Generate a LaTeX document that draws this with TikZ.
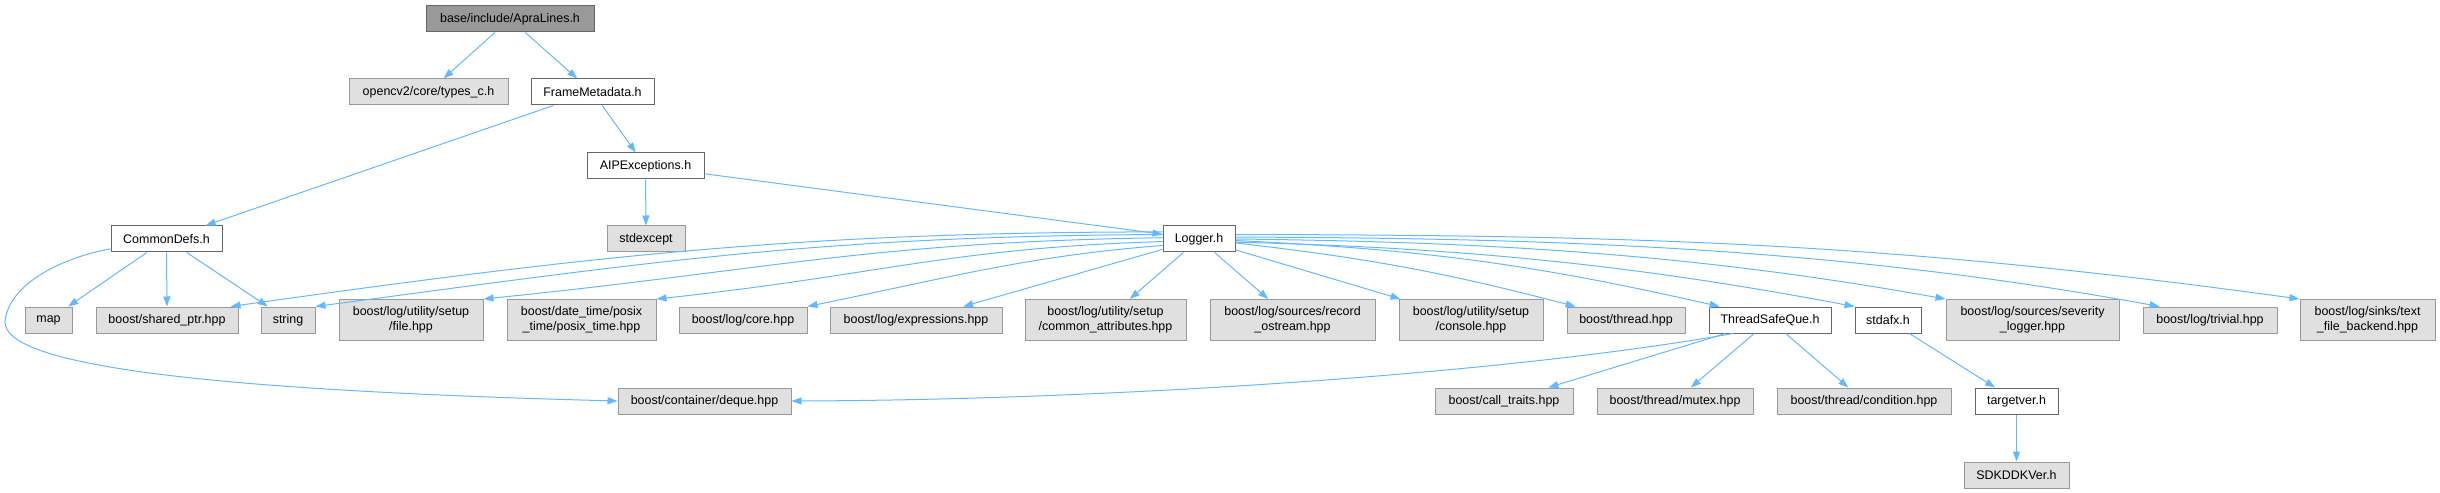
\documentclass[tikz,border=0pt]{standalone}
\usepackage{fontspec}
\setmainfont{Liberation Sans}
\usepackage{xcolor}
\usetikzlibrary{arrows.meta}

\definecolor{edgeblue}{HTML}{63B8FF}
\definecolor{extfill}{HTML}{E0E0E0}
\definecolor{extline}{HTML}{999999}
\definecolor{hdrline}{HTML}{666666}
\definecolor{rootfill}{HTML}{999999}

\begin{document}
\begin{tikzpicture}[x=1bp, y=-1bp,
  hdr/.style={draw=hdrline, fill=white, line width=1bp, inner sep=0pt,
    minimum height=26bp, align=center, font=\fontsize{12.5}{15.2}\selectfont},
  ext/.style={hdr, draw=extline, fill=extfill},
  root/.style={hdr, fill=rootfill},
  tall/.style={minimum height=41bp},
  dep/.style={draw=edgeblue, line width=1bp, -{Triangle[length=10bp,width=7bp]}}]

\useasboundingbox (0,0) rectangle (2440,493);

% top of the graph
\node[root, minimum width=168bp] (apra) at (510,19) {base/include/ApraLines.h};
\node[ext, minimum width=159bp] (opencv) at (428.5,92) {opencv2/core/types\_c.h};
\node[hdr, minimum width=123bp] (frame) at (592.5,92) {FrameMetadata.h};
\node[hdr, minimum width=117bp] (aip) at (645.5,166) {AIPExceptions.h};
\node[ext, minimum width=78bp] (stdexcept) at (646,239) {stdexcept};
\node[hdr, minimum width=111bp] (common) at (166.5,239) {CommonDefs.h};
\node[hdr, minimum width=72bp] (logger) at (1199,239) {Logger.h};

% headers row
\node[ext, minimum width=47bp] (map) at (48.5,320) {map};
\node[ext, minimum width=142bp] (sharedptr) at (167,320) {boost/shared\_ptr.hpp};
\node[ext, minimum width=54bp] (string) at (288,320) {string};
\node[ext, tall, minimum width=144bp] (setupfile) at (411,320) {boost/log/utility/setup\\/file.hpp};
\node[ext, tall, minimum width=149bp] (posix) at (581.5,320) {boost/date\_time/posix\\\_time/posix\_time.hpp};
\node[ext, minimum width=128bp] (core) at (743,320) {boost/log/core.hpp};
\node[ext, minimum width=172bp] (expressions) at (916,320) {boost/log/expressions.hpp};
\node[ext, tall, minimum width=161bp] (commonattr) at (1105.5,320) {boost/log/utility/setup\\/common\_attributes.hpp};
\node[ext, tall, minimum width=165bp] (recordostream) at (1292.5,320) {boost/log/sources/record\\\_ostream.hpp};
\node[ext, tall, minimum width=144bp] (console) at (1471,320) {boost/log/utility/setup\\/console.hpp};
\node[ext, minimum width=118bp] (threadhpp) at (1626,320) {boost/thread.hpp};
\node[hdr, minimum width=122bp] (tsq) at (1770,320) {ThreadSafeQue.h};
\node[hdr, minimum width=66bp] (stdafx) at (1888,320) {stdafx.h};
\node[ext, tall, minimum width=173bp] (severity) at (2032.5,320) {boost/log/sources/severity\\\_logger.hpp};
\node[ext, minimum width=134bp] (trivial) at (2210,320) {boost/log/trivial.hpp};
\node[ext, tall, minimum width=135bp] (textfile) at (2367.5,320) {boost/log/sinks/text\\\_file\_backend.hpp};

% bottom rows
\node[ext, minimum width=173bp] (deque) at (704.5,401) {boost/container/deque.hpp};
\node[ext, minimum width=138bp] (calltraits) at (1504,401) {boost/call\_traits.hpp};
\node[ext, minimum width=156bp] (mutex) at (1675,401) {boost/thread/mutex.hpp};
\node[ext, minimum width=174bp] (condition) at (1864,401) {boost/thread/condition.hpp};
\node[hdr, minimum width=83bp] (targetver) at (2016.5,401) {targetver.h};
\node[ext, minimum width=105bp] (sdk) at (2016.5,475) {SDKDDKVer.h};

\coordinate (farleft) at (5,322);

% includes
\draw[dep] (apra) -- (opencv);
\draw[dep] (apra) -- (frame);
\draw[dep] (frame) -- (common);
\draw[dep] (frame) -- (aip);
\draw[dep] (aip) -- (stdexcept);
\draw[dep] (aip) -- (logger);
\draw[dep] (common) -- (map);
\draw[dep] (common) -- (sharedptr);
\draw[dep] (common) -- (string);
\draw[dep] (common.190) .. controls (60,258) and (8,285) .. (farleft)
  .. controls (5,365) and (200,390) .. (deque.west);

\draw[dep] (logger.169) .. controls (800,232) and (590,256) .. (sharedptr.12);
\draw[dep] (logger.173) .. controls (820,236) and (650,262) .. (string.north east);
\draw[dep] (logger.178) .. controls (870,242) and (770,270) .. (setupfile.north east);
\draw[dep] (logger.184) .. controls (950,248) and (880,275) .. (posix.north east);
\draw[dep] (logger.190) .. controls (1030,256) and (960,275) .. (core.north east);
\draw[dep] (logger) -- (expressions);
\draw[dep] (logger) -- (commonattr);
\draw[dep] (logger) -- (recordostream);
\draw[dep] (logger) -- (console);
\draw[dep] (logger) to[bend left=4] (threadhpp.165);
\draw[dep] (logger) to[bend left=5] (tsq.165);
\draw[dep] (logger.355) .. controls (1480,248) and (1650,268) .. (stdafx.north west);
\draw[dep] (logger.0) .. controls (1500,242) and (1700,255) .. (severity.north west);
\draw[dep] (logger.3) .. controls (1580,238) and (1850,250) .. (trivial.165);
\draw[dep] (logger.7) .. controls (1650,235) and (1900,244) .. (textfile.north west);

\draw[dep] (tsq.200) .. controls (1500,375) and (1100,400) .. (deque.east);
\draw[dep] (tsq) -- (calltraits);
\draw[dep] (tsq) -- (mutex);
\draw[dep] (tsq) -- (condition);
\draw[dep] (stdafx) -- (targetver);
\draw[dep] (targetver) -- (sdk);

\end{tikzpicture}
\end{document}
